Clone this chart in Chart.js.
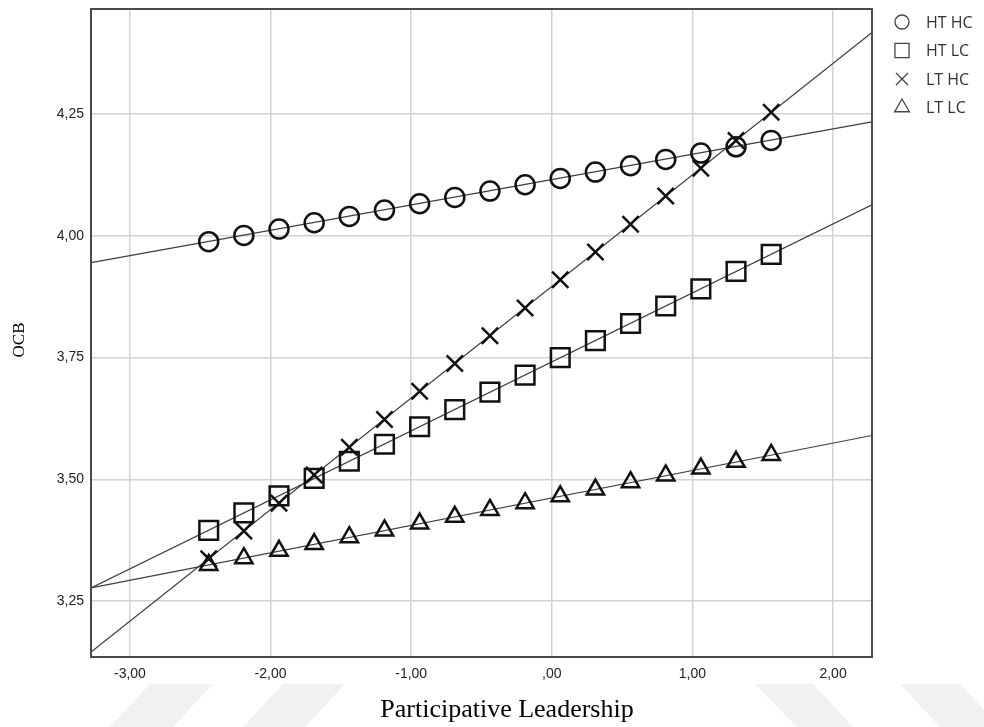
<!DOCTYPE html>
<html>
<head>
<meta charset="utf-8">
<script src="https://cdn.jsdelivr.net/npm/chart.js@4/dist/chart.umd.min.js"></script>
<style>
  html,body{margin:0;padding:0;background:#fff;}
  #wrap{width:984px;height:727px;}
</style>
</head>
<body>
<div id="wrap"><canvas id="chart" width="984" height="727"></canvas></div>
<script>
// participative leadership (centred) where the markers sit
const xValues = [-2.44,-2.19,-1.94,-1.69,-1.44,-1.19,-0.94,-0.69,-0.44,-0.19,0.06,0.31,0.56,0.81,1.06,1.31,1.56];
const htHc = [3.988,4.001,4.014,4.027,4.040,4.053,4.066,4.079,4.092,4.105,4.118,4.131,4.144,4.157,4.170,4.183,4.196];
const htLc = [3.395,3.431,3.466,3.502,3.537,3.572,3.608,3.643,3.679,3.714,3.750,3.785,3.820,3.856,3.891,3.927,3.962];
const ltHc = [3.337,3.394,3.451,3.509,3.566,3.623,3.681,3.738,3.795,3.852,3.910,3.967,4.024,4.082,4.139,4.196,4.254];
const ltLc = [3.324,3.338,3.353,3.367,3.381,3.395,3.409,3.423,3.437,3.451,3.465,3.479,3.494,3.508,3.522,3.536,3.550];

// fit lines, read at the two edges of the plot
const lineX = [-3.277, 2.277];
const htHcLine = [3.945, 4.234];
const htLcLine = [3.277, 4.064];
const ltHcLine = [3.145, 4.418];
const ltLcLine = [3.277, 3.590];

const seriesLabels = ["HT HC","HT LC","LT HC","LT LC"];
const xTicks = [-3,-2,-1,0,1,2];
const yTicks = [3.25,3.50,3.75,4.00,4.25];

const zip=(xs,ys)=>xs.map((x,i)=>({x,y:ys[i]}));
const fmt=v=>{ let s=Math.abs(v).toFixed(2).replace(".",","); if(s.startsWith("0,")) s=s.slice(1); return (v<0?"-":"")+s; };

const STYLE = [
  {pointStyle:"circle",   radius:9.5,  legendR:7},
  {pointStyle:"rect",     radius:13.2, legendR:10},
  {pointStyle:"crossRot", radius:11.5, legendR:8.5},
  {pointStyle:"triangle", radius:10,   legendR:8.5}
];
const markerData=[htHc,htLc,ltHc,ltLc];
const lineData=[htHcLine,htLcLine,ltHcLine,ltLcLine];

const datasets=[];
markerData.forEach((ys,i)=>datasets.push({
  label:seriesLabels[i], data:zip(xValues,ys), showLine:false, order:0,
  pointStyle:STYLE[i].pointStyle, pointRadius:STYLE[i].radius, pointHoverRadius:STYLE[i].radius,
  pointBorderColor:"#111", pointBackgroundColor:"rgba(0,0,0,0)", pointBorderWidth:2.5
}));
lineData.forEach((ys,i)=>datasets.push({
  label:seriesLabels[i]+" fit", data:zip(lineX,ys), showLine:true, order:1,
  borderColor:"#3c3c3c", borderWidth:1.2, pointRadius:0, fill:false
}));

const decor={
  id:"decor",
  beforeDraw(chart){
    const ctx=chart.ctx; ctx.save(); ctx.fillStyle="#f1f1f1";
    [[[150,684],[213,684],[173,727],[110,727]],
     [[283,684],[345,684],[305,727],[243,727]],
     [[755,684],[813,684],[853,727],[797,727]],
     [[900,684],[960,684],[1000,727],[940,727]]].forEach(p=>{
      ctx.beginPath(); ctx.moveTo(p[0][0],p[0][1]); p.slice(1).forEach(q=>ctx.lineTo(q[0],q[1])); ctx.closePath(); ctx.fill();
    });
    ctx.restore();
  },
  afterDraw(chart){
    const ctx=chart.ctx, a=chart.chartArea;
    ctx.save();
    // plot frame
    ctx.strokeStyle="#4a4a4a"; ctx.lineWidth=2;
    ctx.strokeRect(a.left,a.top,a.right-a.left,a.bottom-a.top);
    // axis titles
    ctx.fillStyle="#000"; ctx.textAlign="center"; ctx.textBaseline="alphabetic";
    ctx.font='26px "Liberation Serif", "Times New Roman", serif';
    ctx.fillText("Participative Leadership",507,717);
    ctx.translate(24,340); ctx.rotate(-Math.PI/2);
    ctx.font='17px "Liberation Serif", "Times New Roman", serif';
    ctx.fillText("OCB",0,0);
    ctx.restore();
    // legend
    ctx.save();
    seriesLabels.forEach((lab,i)=>{
      const y=22+28.5*i;
      ctx.strokeStyle="#444"; ctx.fillStyle="rgba(0,0,0,0)"; ctx.lineWidth=1.3;
      Chart.helpers.drawPoint(ctx,{pointStyle:STYLE[i].pointStyle,radius:STYLE[i].legendR,rotation:0,borderWidth:1.3},902,y);
      ctx.fillStyle="#333"; ctx.font='16px "Open Sans", sans-serif'; ctx.textAlign="left"; ctx.textBaseline="middle";
      ctx.fillText(lab,926,y+1);
    });
    ctx.restore();
  }
};

const noPad=s=>{ s.paddingTop=0; s.paddingBottom=0; s.paddingLeft=0; s.paddingRight=0; };

new Chart(document.getElementById("chart"),{
  type:"scatter",
  data:{datasets},
  options:{
    responsive:false, animation:false,
    layout:{autoPadding:false,padding:{top:9,right:112,left:0,bottom:0}},
    plugins:{legend:{display:false},tooltip:{enabled:false}},
    scales:{
      x:{type:"linear",min:lineX[0],max:lineX[1],
        afterBuildTicks:s=>{s.ticks=xTicks.map(v=>({value:v}));},
        afterFit:s=>{s.height=70; noPad(s);},
        grid:{color:"#d2d2d2",lineWidth:1.5,drawTicks:false},
        border:{display:false},
        ticks:{padding:9,color:"#222",font:{family:'"Liberation Sans", Arial, sans-serif',size:14},callback:v=>fmt(v)}},
      y:{type:"linear",min:3.135,max:4.466,
        afterBuildTicks:s=>{s.ticks=yTicks.map(v=>({value:v}));},
        afterFit:s=>{s.width=91; noPad(s);},
        grid:{color:"#d2d2d2",lineWidth:1.5,drawTicks:false},
        border:{display:false},
        ticks:{padding:7,color:"#222",font:{family:'"Liberation Sans", Arial, sans-serif',size:14},callback:v=>fmt(v)}}
    }
  },
  plugins:[decor]
});
</script>
</body>
</html>
